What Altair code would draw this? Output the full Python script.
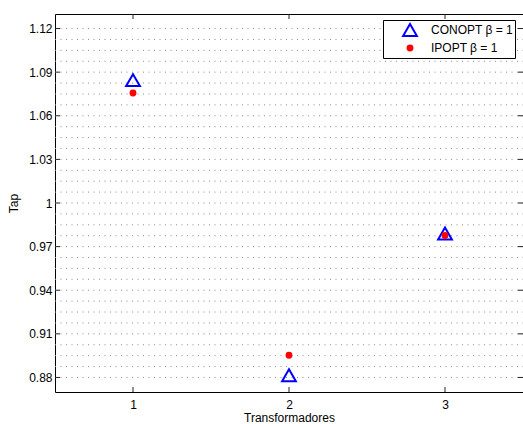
import altair as alt
import pandas as pd

# ---- data ----
transformers = [1, 2, 3]
conopt_tap = [1.0845, 0.8815, 0.9790]
ipopt_tap = [1.0757, 0.8953, 0.9776]
series_names = ["CONOPT \u03b2 = 1", "IPOPT \u03b2 = 1"]

y_tick_values = [0.88, 0.91, 0.94, 0.97, 1.00, 1.03, 1.06, 1.09, 1.12]
x_tick_values = [1, 2, 3]
grid_values = [0.88, 0.8875, 0.895, 0.9025, 0.91, 0.9175, 0.925, 0.9325,
               0.94, 0.9475, 0.955, 0.9625, 0.97, 0.9775, 0.985, 0.9925,
               1.0, 1.0075, 1.015, 1.0225, 1.03, 1.0375, 1.045, 1.0525,
               1.06, 1.0675, 1.075, 1.0825, 1.09, 1.0975, 1.105, 1.1125, 1.12]

W, H = 468, 378
FONT = "Liberation Sans"

rows = []
for name, vals in zip(series_names, [conopt_tap, ipopt_tap]):
    for x, y in zip(transformers, vals):
        rows.append({"series": name, "x": x, "y": y})
df = pd.DataFrame(rows)

xscale = alt.Scale(domain=[0.5, 3.5], nice=False, zero=False)
yscale = alt.Scale(domain=[0.87, 1.13], nice=False, zero=False)
xaxis = alt.Axis(values=x_tick_values, format="d", ticks=False,
                 domain=False, grid=False, labelPadding=7, titlePadding=2)
yaxis = alt.Axis(values=y_tick_values, format="~g", ticks=False,
                 domain=False, grid=False, labelPadding=3, titlePadding=8)


def X(field):
    return alt.X(field, type="quantitative", scale=xscale, axis=xaxis, title="Transformadores")


def Y(field):
    return alt.Y(field, type="quantitative", scale=yscale, axis=yaxis, title="Tap")


grid = alt.Chart(pd.DataFrame({"y": grid_values})).mark_rule(
    color="#8c8c8c", strokeWidth=1, strokeDash=[1, 4.5]
).encode(y=Y("y"), x=alt.value(0), x2=alt.value(W))

ydf = pd.DataFrame({"y": y_tick_values})
xdf = pd.DataFrame({"x": x_tick_values})
tick_style = dict(color="#222222", strokeWidth=1)
ytick_l = alt.Chart(ydf).mark_rule(**tick_style).encode(
    y=Y("y"), x=alt.value(0), x2=alt.value(5))
ytick_r = alt.Chart(ydf).mark_rule(**tick_style).encode(
    y=Y("y"), x=alt.value(W - 5), x2=alt.value(W))
xtick_b = alt.Chart(xdf).mark_rule(**tick_style).encode(
    x=X("x"), y=alt.value(H - 5), y2=alt.value(H))
xtick_t = alt.Chart(xdf).mark_rule(**tick_style).encode(
    x=X("x"), y=alt.value(0), y2=alt.value(5))

legend = alt.Legend(
    title=None, orient="none", legendX=328, legendY=6,
    strokeColor="black", fillColor="white", padding=2,
    labelFont=FONT, labelFontSize=12, labelColor="black",
    symbolStrokeWidth=2, symbolOffset=17, labelOffset=13, rowPadding=2,
    clipHeight=16, cornerRadius=0,
)

points = alt.Chart(df).mark_point(opacity=1, strokeWidth=2).encode(
    x=X("x"),
    y=Y("y"),
    shape=alt.Shape("series:N", scale=alt.Scale(domain=series_names, range=["triangle-up", "circle"]), legend=legend),
    stroke=alt.Stroke("series:N", scale=alt.Scale(domain=series_names, range=["#0000ff", "#ff0000"]), legend=legend),
    fill=alt.Fill("series:N", scale=alt.Scale(domain=series_names, range=["transparent", "#ff0000"]), legend=legend),
    size=alt.Size("series:N", scale=alt.Scale(domain=series_names, range=[190, 24]), legend=legend),
)

chart = alt.layer(grid, ytick_l, ytick_r, xtick_b, xtick_t, points).properties(
    width=W, height=H,
    autosize=alt.AutoSizeParams(type="none"),
    padding={"left": 55, "top": 14, "right": 0, "bottom": 32},
    background="white",
).configure_view(
    stroke="black", strokeWidth=1
).configure_axis(
    labelFont=FONT, labelFontSize=12, labelColor="black",
    titleFont=FONT, titleFontSize=12, titleColor="black", titleFontWeight="normal",
)

chart.save("out.html", embed_options={"renderer": "svg", "actions": False})
